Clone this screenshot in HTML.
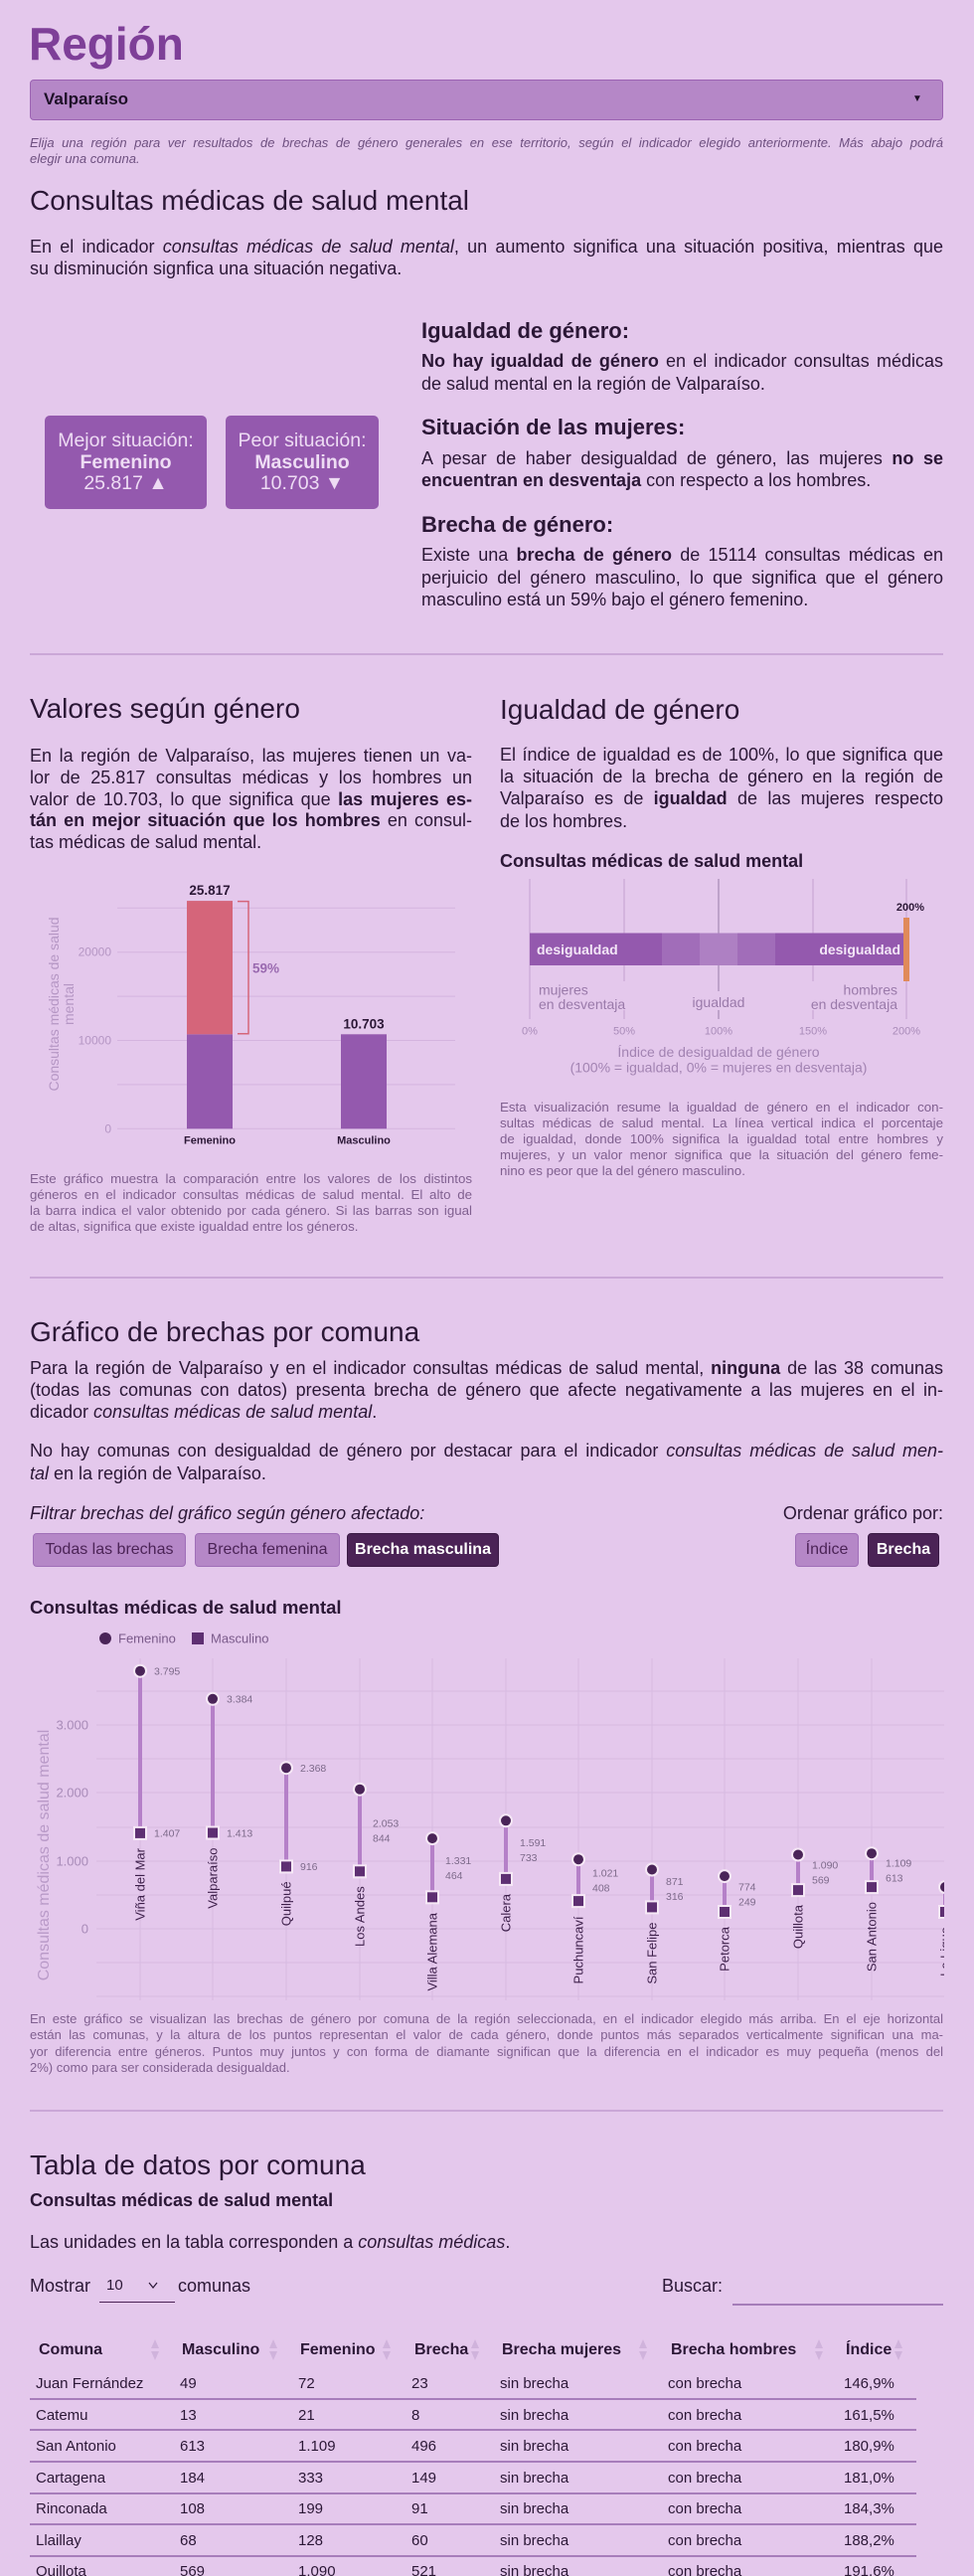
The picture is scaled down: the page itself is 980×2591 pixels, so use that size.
<!DOCTYPE html>
<html><head><meta charset="utf-8">
<style>
*{margin:0;padding:0;box-sizing:border-box}
html,body{width:980px;height:2591px;overflow:hidden;background:#e4c8ec}
body{position:relative;font-family:"Liberation Sans",Arial,sans-serif;color:#2b1736}
.a{position:absolute}
.j{text-align:justify;text-align-last:justify}
.h2{position:absolute;font-size:28px;line-height:34px;color:#2b1736;white-space:nowrap}
.dv{position:absolute;left:30px;width:919px;height:2px;background:#caa7d7}
.btn{position:absolute;top:1542px;height:34px;border-radius:4px;font-size:16px;line-height:32px;text-align:center;white-space:nowrap}
.lt{background:#b587c7;border:1px solid #a06fb8;color:#4b2356}
.dk{background:#4b2356;border:1px solid #3a1a44;color:#fff;font-weight:bold}
.row{position:absolute;left:0;width:980px;height:20px;font-size:15px;line-height:20px;color:#2b1736;white-space:nowrap}
.row span{position:absolute}
.hd{font-weight:bold;font-size:16px}
.sep{position:absolute;left:30px;width:892px;height:2px;background:#a77dbb}
svg{position:absolute;left:0;top:0}
</style></head><body>
<svg width="980" height="2591" viewBox="0 0 980 2591" font-family="Liberation Sans, Arial, sans-serif">
<defs><clipPath id="cp"><rect x="97" y="1662" width="853" height="350"/></clipPath></defs>
<!-- Bar chart -->
<g stroke="#d4b4df" stroke-width="1">
<line x1="118" x2="458" y1="913.3" y2="913.3"/><line x1="118" x2="458" y1="957.7" y2="957.7"/>
<line x1="118" x2="458" y1="1002.1" y2="1002.1"/><line x1="118" x2="458" y1="1046.5" y2="1046.5"/>
<line x1="118" x2="458" y1="1090.9" y2="1090.9"/><line x1="118" x2="458" y1="1135.3" y2="1135.3"/>
</g>
<rect x="188" y="1040.3" width="46" height="95" fill="#9459ae"/>
<rect x="188" y="906.1" width="46" height="134.2" fill="#d5657a"/>
<rect x="343" y="1040.3" width="46" height="95" fill="#9459ae"/>
<path d="M239 906.6H250V1039.8H239" fill="none" stroke="#d5657a" stroke-width="1.5"/>
<text x="211" y="900" text-anchor="middle" font-weight="bold" font-size="13.5" fill="#2b1736">25.817</text>
<text x="366" y="1034.6" text-anchor="middle" font-weight="bold" font-size="13.5" fill="#2b1736">10.703</text>
<text x="254" y="978.4" font-weight="bold" font-size="13.5" fill="#9a6ab0">59%</text>
<g font-size="12" fill="#b596c4" text-anchor="end"><text x="112" y="961.7">20000</text><text x="112" y="1050.5">10000</text><text x="112" y="1139.3">0</text></g>
<text transform="translate(59,1010) rotate(-90)" text-anchor="middle" font-size="14" fill="#b596c4">Consultas médicas de salud</text>
<text transform="translate(74,1010) rotate(-90)" text-anchor="middle" font-size="14" fill="#b596c4">mental</text>
<text x="211" y="1150.4" text-anchor="middle" font-weight="bold" font-size="11" fill="#2b1736">Femenino</text>
<text x="366" y="1150.4" text-anchor="middle" font-weight="bold" font-size="11" fill="#2b1736">Masculino</text>

<!-- Index chart -->
<g stroke="#c9a8d6" stroke-width="1.2">
<line x1="533" x2="533" y1="884" y2="1025"/>
<line x1="628" x2="628" y1="884" y2="987"/><line x1="628" x2="628" y1="1016" y2="1025"/>
<line x1="818" x2="818" y1="884" y2="987"/><line x1="818" x2="818" y1="1016" y2="1025"/>
<line x1="912" x2="912" y1="884" y2="1025"/>
</g>
<g stroke="#a58ab3" stroke-width="1.2"><line x1="723" x2="723" y1="884" y2="997"/><line x1="723" x2="723" y1="1016" y2="1025"/></g>
<rect x="533" y="938.5" width="133" height="32.5" fill="#9459ae"/>
<rect x="666" y="938.5" width="38" height="32.5" fill="#a16db9"/>
<rect x="704" y="938.5" width="38" height="32.5" fill="#ae80c3"/>
<rect x="742" y="938.5" width="38" height="32.5" fill="#a16db9"/>
<rect x="780" y="938.5" width="129" height="32.5" fill="#9459ae"/>
<text x="540" y="960" font-weight="bold" font-size="14" fill="#f3e6f7">desigualdad</text>
<text x="906" y="960" text-anchor="end" font-weight="bold" font-size="14" fill="#f3e6f7">desigualdad</text>
<rect x="909" y="923" width="6" height="64" fill="#e08a5a"/>
<text x="916" y="916" text-anchor="middle" font-weight="bold" font-size="11" fill="#2b1736">200%</text>
<g font-size="14" fill="#9a7aaa">
<text x="542" y="1000.6">mujeres</text><text x="542" y="1015">en desventaja</text>
<text x="723" y="1013" text-anchor="middle">igualdad</text>
<text x="903" y="1000.6" text-anchor="end">hombres</text><text x="903" y="1015" text-anchor="end">en desventaja</text>
</g>
<g font-size="11" fill="#a98bb9" text-anchor="middle">
<text x="533" y="1040.6">0%</text><text x="628" y="1040.6">50%</text><text x="723" y="1040.6">100%</text><text x="818" y="1040.6">150%</text><text x="912" y="1040.6">200%</text>
</g>
<g font-size="14" fill="#a283b2" text-anchor="middle">
<text x="723" y="1063">Índice de desigualdad de género</text>
<text x="723" y="1078.7">(100% = igualdad, 0% = mujeres en desventaja)</text>
</g>

<!-- Comuna chart -->
<circle cx="106" cy="1648" r="6" fill="#4a2458"/>
<text x="119" y="1652.5" font-size="13" fill="#7a5a8a">Femenino</text>
<rect x="193" y="1642" width="12" height="12" fill="#5e2f72"/>
<text x="212" y="1652.5" font-size="13" fill="#7a5a8a">Masculino</text>
<g font-size="13" fill="#a88bb8" text-anchor="end">
<text x="89" y="1739.5">3.000</text><text x="89" y="1807.5">2.000</text><text x="89" y="1876.5">1.000</text><text x="89" y="1944.5">0</text>
</g>
<text transform="translate(49,1866) rotate(-90)" text-anchor="middle" font-size="16" fill="#b99ac8">Consultas médicas de salud mental</text>
<g clip-path="url(#cp)">
<g stroke="#d7bae1" stroke-width="1">
<line x1="97" x2="950" y1="1701" y2="1701"/><line x1="97" x2="950" y1="1735" y2="1735"/>
<line x1="97" x2="950" y1="1769" y2="1769"/><line x1="97" x2="950" y1="1803" y2="1803"/>
<line x1="97" x2="950" y1="1838" y2="1838"/><line x1="97" x2="950" y1="1872" y2="1872"/>
<line x1="97" x2="950" y1="1906" y2="1906"/><line x1="97" x2="950" y1="1940" y2="1940"/>
<line x1="97" x2="950" y1="1974" y2="1974"/><line x1="97" x2="950" y1="2008" y2="2008"/>
<line x1="141" x2="141" y1="1668" y2="2012"/><line x1="214" x2="214" y1="1668" y2="2012"/>
<line x1="288" x2="288" y1="1668" y2="2012"/><line x1="362" x2="362" y1="1668" y2="2012"/>
<line x1="435" x2="435" y1="1668" y2="2012"/><line x1="509" x2="509" y1="1668" y2="2012"/>
<line x1="582" x2="582" y1="1668" y2="2012"/><line x1="656" x2="656" y1="1668" y2="2012"/>
<line x1="729" x2="729" y1="1668" y2="2012"/><line x1="803" x2="803" y1="1668" y2="2012"/>
<line x1="877" x2="877" y1="1668" y2="2012"/>
</g>
<g stroke="#b580c8" stroke-width="4">
<line x1="141" x2="141" y1="1680.7" y2="1843.9"/>
<line x1="214" x2="214" y1="1708.8" y2="1843.5"/>
<line x1="288" x2="288" y1="1778.2" y2="1877.4"/>
<line x1="362" x2="362" y1="1799.7" y2="1882.3"/>
<line x1="435" x2="435" y1="1849.1" y2="1908.3"/>
<line x1="509" x2="509" y1="1831.3" y2="1889.9"/>
<line x1="582" x2="582" y1="1870.2" y2="1912.1"/>
<line x1="656" x2="656" y1="1880.5" y2="1918.4"/>
<line x1="729" x2="729" y1="1887.1" y2="1923"/>
<line x1="803" x2="803" y1="1865.5" y2="1901.1"/>
<line x1="877" x2="877" y1="1864.2" y2="1898.1"/>
<line x1="951" x2="951" y1="1898" y2="1923"/>
</g>
<g fill="#4a2458" stroke="#f6e8f6" stroke-width="2">
<circle cx="141" cy="1680.7" r="6"/><circle cx="214" cy="1708.8" r="6"/><circle cx="288" cy="1778.2" r="6"/>
<circle cx="362" cy="1799.7" r="6"/><circle cx="435" cy="1849.1" r="6"/><circle cx="509" cy="1831.3" r="6"/>
<circle cx="582" cy="1870.2" r="6"/><circle cx="656" cy="1880.5" r="6"/><circle cx="729" cy="1887.1" r="6"/>
<circle cx="803" cy="1865.5" r="6"/><circle cx="877" cy="1864.2" r="6"/><circle cx="951" cy="1898" r="6"/>
</g>
<g fill="#5e2f72" stroke="#f6e8f6" stroke-width="2">
<rect x="135" y="1837.9" width="12" height="12"/><rect x="208" y="1837.5" width="12" height="12"/>
<rect x="282" y="1871.4" width="12" height="12"/><rect x="356" y="1876.3" width="12" height="12"/>
<rect x="429" y="1902.3" width="12" height="12"/><rect x="503" y="1883.9" width="12" height="12"/>
<rect x="576" y="1906.1" width="12" height="12"/><rect x="650" y="1912.4" width="12" height="12"/>
<rect x="723" y="1917" width="12" height="12"/><rect x="797" y="1895.1" width="12" height="12"/>
<rect x="871" y="1892.1" width="12" height="12"/><rect x="945" y="1917" width="12" height="12"/>
</g>
<g font-size="10.5" fill="#7d6a8a">
<text x="155" y="1684.5">3.795</text><text x="155" y="1847.7">1.407</text>
<text x="228" y="1712.6">3.384</text><text x="228" y="1847.3">1.413</text>
<text x="302" y="1782">2.368</text><text x="302" y="1881.2">916</text>
<text x="375" y="1837.3">2.053</text><text x="375" y="1852.3">844</text>
<text x="448" y="1875">1.331</text><text x="448" y="1890">464</text>
<text x="523" y="1857">1.591</text><text x="523" y="1872">733</text>
<text x="596" y="1887.5">1.021</text><text x="596" y="1902.5">408</text>
<text x="670" y="1895.8">871</text><text x="670" y="1910.8">316</text>
<text x="743" y="1901.3">774</text><text x="743" y="1916.3">249</text>
<text x="817" y="1879.6">1.090</text><text x="817" y="1894.6">569</text>
<text x="891" y="1877.5">1.109</text><text x="891" y="1892.5">613</text>
</g>
<g font-size="13" fill="#3d1f4a" text-anchor="end">
<text transform="translate(145.5,1859) rotate(-90)">Viña del Mar</text>
<text transform="translate(218.5,1858.5) rotate(-90)">Valparaíso</text>
<text transform="translate(292.5,1892.4) rotate(-90)">Quilpué</text>
<text transform="translate(366.5,1897.3) rotate(-90)">Los Andes</text>
<text transform="translate(439.5,1924) rotate(-90)">Villa Alemana</text>
<text transform="translate(513.5,1905) rotate(-90)">Calera</text>
<text transform="translate(586.5,1927.5) rotate(-90)">Puchuncaví</text>
<text transform="translate(660.5,1933.5) rotate(-90)">San Felipe</text>
<text transform="translate(733.5,1938) rotate(-90)">Petorca</text>
<text transform="translate(807.5,1916) rotate(-90)">Quillota</text>
<text transform="translate(881.5,1913) rotate(-90)">San Antonio</text>
<text transform="translate(955.5,1938) rotate(-90)">La Ligua</text>
</g>
</g>

<!-- table sort arrows -->
<g fill="#d0b3dc">
<path d="M152 2362l4-9 4 9zM152 2365l4 9 4-9z"/>
<path d="M271 2362l4-9 4 9zM271 2365l4 9 4-9z"/>
<path d="M385 2362l4-9 4 9zM385 2365l4 9 4-9z"/>
<path d="M474 2362l4-9 4 9zM474 2365l4 9 4-9z"/>
<path d="M643 2362l4-9 4 9zM643 2365l4 9 4-9z"/>
<path d="M820 2362l4-9 4 9zM820 2365l4 9 4-9z"/>
<path d="M900 2362l4-9 4 9zM900 2365l4 9 4-9z"/>
</g>
<polyline points="150,2296 154,2301 158,2296" fill="none" stroke="#2b1736" stroke-width="1.2"/>
</svg>

<!-- Header -->
<div class="a" style="left:29px;top:21px;font-size:46px;line-height:46px;font-weight:bold;color:#7e3f98">Región</div>
<div class="a" style="left:30px;top:80px;width:919px;height:41px;background:#b587c7;border:1px solid #9c63b3;border-radius:4px"></div>
<div class="a" style="left:44px;top:90px;font-size:17px;line-height:20px;font-weight:bold;color:#1e1028">Valparaíso</div>
<div class="a" style="left:918px;top:94px;font-size:10px;line-height:12px;color:#1e1028">▼</div>
<div class="a" style="left:30px;top:136px;width:919px;font-size:13px;line-height:15.5px;font-style:italic;color:#6e5080">
<div class="j">Elija una región para ver resultados de brechas de género generales en ese territorio, según el indicador elegido anteriormente. Más abajo podrá</div>
<div>elegir una comuna.</div></div>

<div class="h2" style="left:30px;top:185px">Consultas médicas de salud mental</div>
<div class="a" style="left:30px;top:237px;width:919px;font-size:18px;line-height:22px">
<div class="j">En el indicador <i>consultas médicas de salud mental</i>, un aumento significa una situación positiva, mientras que</div>
<div>su disminución signfica una situación negativa.</div></div>

<!-- boxes -->
<div class="a" style="left:45px;top:418px;width:163px;height:94px;background:#9459ae;border-radius:5px;color:#eedcf4;text-align:center;font-size:19.5px;line-height:21.5px;padding-top:15px;white-space:nowrap">Mejor situación:<br><b>Femenino</b><br>25.817 ▲</div>
<div class="a" style="left:227px;top:418px;width:154px;height:94px;background:#9459ae;border-radius:5px;color:#eedcf4;text-align:center;font-size:19.5px;line-height:21.5px;padding-top:15px;white-space:nowrap">Peor situación:<br><b>Masculino</b><br>10.703 ▼</div>

<!-- right column -->
<div class="a" style="left:424px;top:320px;font-size:22px;line-height:26px;font-weight:bold">Igualdad de género:</div>
<div class="a" style="left:424px;top:351.5px;width:525px;font-size:18px;line-height:23.4px">
<div class="j"><b>No hay igualdad de género</b> en el indicador consultas médicas</div>
<div>de salud mental en la región de Valparaíso.</div></div>
<div class="a" style="left:424px;top:417px;font-size:22px;line-height:26px;font-weight:bold">Situación de las mujeres:</div>
<div class="a" style="left:424px;top:451px;width:525px;font-size:18px;line-height:21.5px">
<div class="j">A pesar de haber desigualdad de género, las mujeres <b>no se</b></div>
<div><b>encuentran en desventaja</b> con respecto a los hombres.</div></div>
<div class="a" style="left:424px;top:515px;font-size:22px;line-height:26px;font-weight:bold">Brecha de género:</div>
<div class="a" style="left:424px;top:547px;width:525px;font-size:18px;line-height:22.5px">
<div class="j">Existe una <b>brecha de género</b> de 15114 consultas médicas en</div>
<div class="j">perjuicio del género masculino, lo que significa que el género</div>
<div>masculino está un 59% bajo el género femenino.</div></div>

<div class="dv" style="top:657px"></div>

<!-- Valores según género -->
<div class="h2" style="left:30px;top:696px">Valores según género</div>
<div class="a" style="left:30px;top:750px;width:445px;font-size:18px;line-height:21.8px">
<div class="j">En la región de Valparaíso, las mujeres tienen un va-</div>
<div class="j">lor de 25.817 consultas médicas y los hombres un</div>
<div class="j">valor de 10.703, lo que significa que <b>las mujeres es-</b></div>
<div class="j"><b>tán en mejor situación que los hombres</b> en consul-</div>
<div>tas médicas de salud mental.</div></div>
<div class="a" style="left:30px;top:1177.7px;width:445px;font-size:13.3px;line-height:16.2px;color:#806090">
<div class="j">Este gráfico muestra la comparación entre los valores de los distintos</div>
<div class="j">géneros en el indicador consultas médicas de salud mental. El alto de</div>
<div class="j">la barra indica el valor obtenido por cada género. Si las barras son igual</div>
<div>de altas, significa que existe igualdad entre los géneros.</div></div>

<!-- Igualdad de género -->
<div class="h2" style="left:503px;top:697px">Igualdad de género</div>
<div class="a" style="left:503px;top:748px;width:446px;font-size:18px;line-height:22.2px">
<div class="j">El índice de igualdad es de 100%, lo que significa que</div>
<div class="j">la situación de la brecha de género en la región de</div>
<div class="j">Valparaíso es de <b>igualdad</b> de las mujeres respecto</div>
<div>de los hombres.</div></div>
<div class="a" style="left:503px;top:855px;font-size:18px;line-height:22px;font-weight:bold;white-space:nowrap">Consultas médicas de salud mental</div>
<div class="a" style="left:503px;top:1106px;width:446px;font-size:13.3px;line-height:16.1px;color:#806090">
<div class="j">Esta visualización resume la igualdad de género en el indicador con-</div>
<div class="j">sultas médicas de salud mental. La línea vertical indica el porcentaje</div>
<div class="j">de igualdad, donde 100% significa la igualdad total entre hombres y</div>
<div class="j">mujeres, y un valor menor significa que la situación del género feme-</div>
<div>nino es peor que la del género masculino.</div></div>

<div class="dv" style="top:1284px"></div>

<!-- Gráfico de brechas -->
<div class="h2" style="left:30px;top:1323px">Gráfico de brechas por comuna</div>
<div class="a" style="left:30px;top:1365px;width:919px;font-size:18px;line-height:22px">
<div class="j">Para la región de Valparaíso y en el indicador consultas médicas de salud mental, <b>ninguna</b> de las 38 comunas</div>
<div class="j">(todas las comunas con datos) presenta brecha de género que afecte negativamente a las mujeres en el in-</div>
<div>dicador <i>consultas médicas de salud mental</i>.</div></div>
<div class="a" style="left:30px;top:1447.5px;width:919px;font-size:18px;line-height:23px">
<div class="j">No hay comunas con desigualdad de género por destacar para el indicador <i>consultas médicas de salud men-</i></div>
<div><i>tal</i> en la región de Valparaíso.</div></div>
<div class="a" style="left:30px;top:1511px;font-size:18px;line-height:22px;font-style:italic;white-space:nowrap">Filtrar brechas del gráfico según género afectado:</div>
<div class="a" style="right:31px;top:1511px;font-size:18px;line-height:22px;white-space:nowrap">Ordenar gráfico por:</div>
<div class="btn lt" style="left:33px;width:154px">Todas las brechas</div>
<div class="btn lt" style="left:196px;width:146px">Brecha femenina</div>
<div class="btn dk" style="left:349px;width:153px">Brecha masculina</div>
<div class="btn lt" style="left:800px;width:64px">Índice</div>
<div class="btn dk" style="left:873px;width:72px">Brecha</div>

<div class="a" style="left:30px;top:1606px;font-size:18.5px;line-height:22px;font-weight:bold;white-space:nowrap">Consultas médicas de salud mental</div>

<div class="a" style="left:30px;top:2023px;width:919px;font-size:13px;line-height:16.3px;color:#806090">
<div class="j">En este gráfico se visualizan las brechas de género por comuna de la región seleccionada, en el indicador elegido más arriba. En el eje horizontal</div>
<div class="j">están las comunas, y la altura de los puntos representan el valor de cada género, donde puntos más separados verticalmente significan una ma-</div>
<div class="j">yor diferencia entre géneros. Puntos muy juntos y con forma de diamante significan que la diferencia en el indicador es muy pequeña (menos del</div>
<div>2%) como para ser considerada desigualdad.</div></div>

<div class="dv" style="top:2122px"></div>

<!-- Tabla -->
<div class="h2" style="left:30px;top:2161px">Tabla de datos por comuna</div>
<div class="a" style="left:30px;top:2202px;font-size:18px;line-height:22px;font-weight:bold;white-space:nowrap">Consultas médicas de salud mental</div>
<div class="a" style="left:30px;top:2244px;font-size:18px;line-height:22px;white-space:nowrap">Las unidades en la tabla corresponden a <i>consultas médicas</i>.</div>

<div class="a" style="left:30px;top:2288px;font-size:18px;line-height:22px">Mostrar</div>
<div class="a" style="left:107px;top:2289px;font-size:15px;line-height:20px">10</div>
<div class="a" style="left:100px;top:2315px;width:76px;height:1px;background:#4b2356"></div>
<div class="a" style="left:179px;top:2288px;font-size:18px;line-height:22px">comunas</div>
<div class="a" style="left:666px;top:2288px;font-size:18px;line-height:22px">Buscar:</div>
<div class="a" style="left:737px;top:2317px;width:212px;height:2px;background:#a57db9"></div>

<div class="row hd" style="top:2354px">
<span style="left:39px">Comuna</span><span style="left:183px">Masculino</span><span style="left:302px">Femenino</span><span style="left:417px">Brecha</span><span style="left:505px">Brecha mujeres</span><span style="left:675px">Brecha hombres</span><span style="left:851px">Índice</span></div>

<div class="row" style="top:2388px"><span style="left:36px">Juan Fernández</span><span style="left:181px">49</span><span style="left:300px">72</span><span style="left:414px">23</span><span style="left:503px">sin brecha</span><span style="left:672px">con brecha</span><span style="left:849px">146,9%</span></div>
<div class="sep" style="top:2412px"></div>
<div class="row" style="top:2419.5px"><span style="left:36px">Catemu</span><span style="left:181px">13</span><span style="left:300px">21</span><span style="left:414px">8</span><span style="left:503px">sin brecha</span><span style="left:672px">con brecha</span><span style="left:849px">161,5%</span></div>
<div class="sep" style="top:2443px"></div>
<div class="row" style="top:2451px"><span style="left:36px">San Antonio</span><span style="left:181px">613</span><span style="left:300px">1.109</span><span style="left:414px">496</span><span style="left:503px">sin brecha</span><span style="left:672px">con brecha</span><span style="left:849px">180,9%</span></div>
<div class="sep" style="top:2475px"></div>
<div class="row" style="top:2482.7px"><span style="left:36px">Cartagena</span><span style="left:181px">184</span><span style="left:300px">333</span><span style="left:414px">149</span><span style="left:503px">sin brecha</span><span style="left:672px">con brecha</span><span style="left:849px">181,0%</span></div>
<div class="sep" style="top:2507px"></div>
<div class="row" style="top:2514.3px"><span style="left:36px">Rinconada</span><span style="left:181px">108</span><span style="left:300px">199</span><span style="left:414px">91</span><span style="left:503px">sin brecha</span><span style="left:672px">con brecha</span><span style="left:849px">184,3%</span></div>
<div class="sep" style="top:2538px"></div>
<div class="row" style="top:2546.3px"><span style="left:36px">Llaillay</span><span style="left:181px">68</span><span style="left:300px">128</span><span style="left:414px">60</span><span style="left:503px">sin brecha</span><span style="left:672px">con brecha</span><span style="left:849px">188,2%</span></div>
<div class="sep" style="top:2570px"></div>
<div class="row" style="top:2577px"><span style="left:36px">Quillota</span><span style="left:181px">569</span><span style="left:300px">1.090</span><span style="left:414px">521</span><span style="left:503px">sin brecha</span><span style="left:672px">con brecha</span><span style="left:849px">191,6%</span></div>
</body></html>
